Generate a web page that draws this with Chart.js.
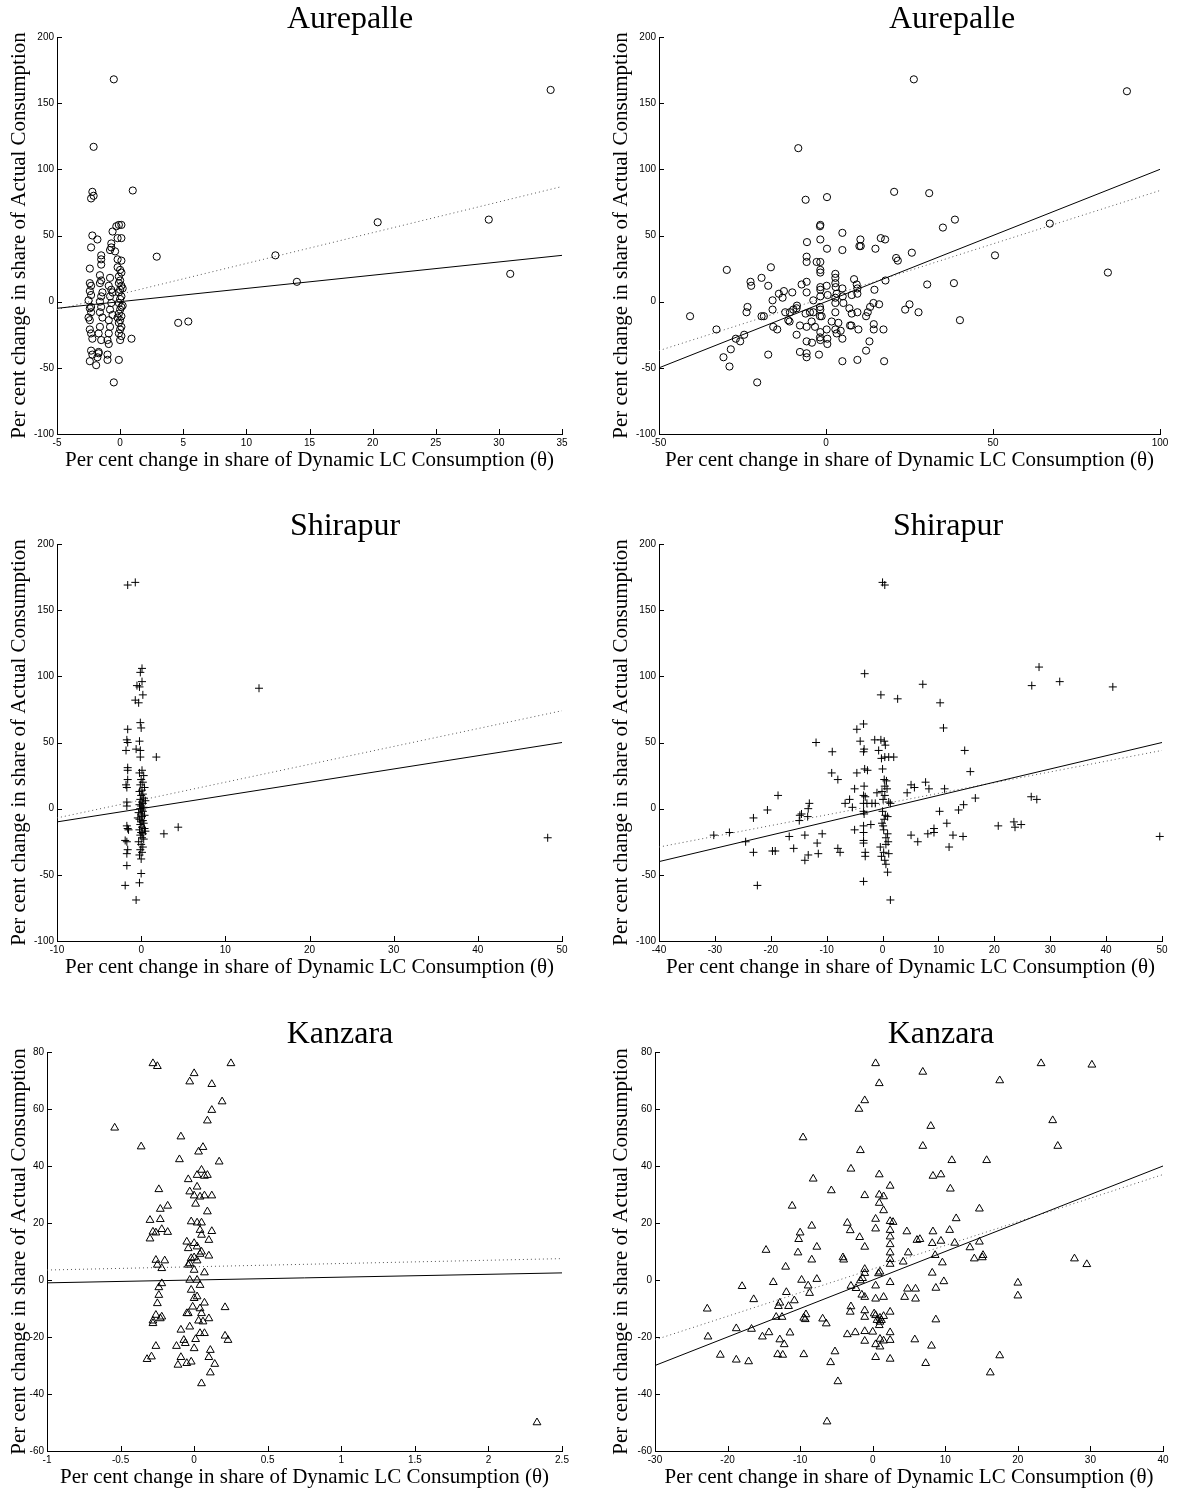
<!DOCTYPE html>
<html>
<head>
<meta charset="utf-8">
<title>Actual vs dynamic LC consumption shares</title>
<script src="https://cdn.jsdelivr.net/npm/chart.js@4.4.1/dist/chart.umd.min.js"></script>
<style>
  body { margin: 0; background: #fff; }
  #figure { position: relative; width: 1179px; height: 1492px; }
  #figure canvas { position: absolute; }
</style>
</head>
<body>
<div id="figure"></div>
<script>
// ---------- DATA ----------
const xLabel = "Per cent change in share of Dynamic LC Consumption (\u03B8)";
const yLabel = "Per cent change in share of Actual Consumption";

// axis ranges: [min, max, step]
const aurDynXAxis = [-5, 35, 5];
const aurLcXAxis = [-50, 100, 50];
const shiDynXAxis = [-10, 50, 10];
const shiLcXAxis = [-40, 50, 10];
const kanDynXAxis = [-1, 2.5, 0.5];
const kanLcXAxis = [-30, 40, 10];
const bigYAxis = [-100, 200, 50];
const kanYAxis = [-60, 80, 20];

// 45-degree lines and fitted (dotted) lines, end points
const aurDynDiag = [[-5, -5], [35, 35]];
const aurDynFit = [[-5, -6], [35, 87]];
const aurLcDiag = [[-50, -50], [100, 100]];
const aurLcFit = [[-50, -37], [100, 84]];
const shiDynDiag = [[-10, -10], [50, 50]];
const shiDynFit = [[-10, -7], [50, 74]];
const shiLcDiag = [[-40, -40], [50, 50]];
const shiLcFit = [[-40, -29], [50, 44]];
const kanDynDiag = [[-1, -1], [2.5, 2.5]];
const kanDynFit = [[-1, 3.5], [2.5, 7.5]];
const kanLcDiag = [[-30, -30], [40, 40]];
const kanLcFit = [[-30, -21], [40, 37]];

// Aurepalle, dynamic LC
const aurDynPts = [
  [-2.1,117],[-2.2,83],[-2.1,80],[-2.3,78],[-2.2,50],[-2.3,41],[-2.4,25],[-2.4,14],[-2.3,12],[-2.4,8],
  [-2.3,5],[-2.3,-4],[-2.4,-5],[-2.3,-8],[-2.4,-14],[-2.4,-21],[-2.3,-24],[-2.2,-28],[-2.3,-37],[-2.2,-40],
  [-2.4,-45],[-2.5,1],[-2.5,-12],
  [-1.8,47],[-1.5,35],[-1.5,32],[-1.5,28],[-1.5,16],[-1.6,14],[-1.5,4],[-1.6,0],[-1.5,-4],[-1.6,-8],
  [-1.6,-19],[-1.7,-24],[-1.5,-29],[-1.7,-38],[-1.7,-39],[-1.8,-42],[-1.9,-48],[-1.4,7],[-1.4,-12],[-1.6,20],
  [-0.5,168],[-0.6,53],[-0.7,44],[-0.7,41],[-0.8,39],[-0.8,18],[-0.9,12],[-0.7,9],[-0.8,4],[-0.7,-1],
  [-0.8,-6],[-0.9,-14],[-0.8,-19],[-0.9,-24],[-1.0,-29],[-0.9,-32],[-1.0,-40],[-1.0,-44],[-0.5,-61],[-0.6,7],[-0.6,-10],
  [-0.3,57],[-0.1,58],[0.1,58],[-0.2,48],[0.1,48],[-0.4,38],[-0.2,32],[0.1,31],[0.0,24],[0.1,22],
  [-0.1,19],[0.0,16],[-0.1,14],[0.1,12],[0.0,9],[-0.1,7],[0.1,4],[0.0,2],[-0.1,-1],[0.1,-4],
  [0.0,-6],[-0.1,-9],[0.1,-11],[0.0,-14],[-0.1,-16],[0.1,-19],[0.0,-21],[-0.1,-24],[0.1,-26],[0.0,-29],
  [-0.1,-44],[-0.2,26],[0.2,10],[0.2,-3],[-0.2,-12],
  [1.0,84],[0.9,-28],[2.9,34],[4.6,-16],[5.4,-15],[12.3,35],[14.0,15],[20.4,60],[29.2,62],[30.9,21],[34.1,160]
];

// Aurepalle, LC
const aurLcPts = [
  [-8.3,116],[-6.1,77],[0.3,79],[20.4,83],[30.9,82],[-1.8,57],[-1.7,58],[-1.7,47],[4.9,52],[-5.7,45],
  [0.3,40],[4.9,39],[10.3,47],[10.0,42],[10.4,42],[16.4,48],[17.7,47],[14.8,40],[21.0,33],[21.5,31],
  [25.7,37],[30.3,13],[-29.7,24],[-16.5,26],[-19.3,18],[-22.6,15],[-22.4,12],[-17.3,12],[-12.6,8],[-14.1,6],
  [-16.0,1],[-13.0,3],[-10.1,7],[-7.3,13],[-5.8,15],[-5.8,7],[-5.8,34],[-5.8,30],[-2.8,30],[-1.7,30],
  [-1.7,24],[-1.7,22],[-1.7,11],[-1.7,9],[-3.8,1],[-1.7,4],[-1.8,-4],[-1.7,-6],[-1.8,-11],[0.2,12],
  [0.5,5],[2.8,21],[2.8,18],[2.8,14],[2.9,11],[2.8,3],[2.8,-1],[2.8,-8],[3.2,6],[4.9,10],
  [5.2,-1],[5.0,4],[8.4,17],[9.2,13],[9.4,10],[7.7,5],[9.4,6],[7.0,-5],[7.7,-9],[9.4,-8],
  [7.2,-18],[9.7,-21],[7.6,-18],[14.5,9],[14.2,-1],[15.9,-2],[12.5,-8],[13.2,-4],[12.0,-11],[17.8,16],
  [14.3,-17],[14.3,-21],[17.2,-21],[25.0,-2],[23.7,-6],[27.7,-8],[13.0,-30],[12.0,-37],[9.4,-44],[4.9,-45],
  [17.4,-45],[-40.7,-11],[-32.8,-21],[-27.0,-28],[-25.7,-30],[-24.5,-25],[-23.8,-8],[-23.5,-4],[-19.3,-11],[-18.6,-11],
  [-16.0,-6],[-15.8,-19],[-14.6,-21],[-11.3,-14],[-10.9,-15],[-12.2,-8],[-10.8,-8],[-9.8,-6],[-8.8,-5],[-8.7,-3],
  [-7.8,-18],[-8.8,-25],[-5.8,-19],[-4.3,-15],[-3.3,-19],[-4.8,-8],[-3.8,-8],[-6.1,-9],[-5.8,-30],[-4.2,-31],
  [-5.8,-39],[-5.8,-42],[-7.8,-38],[-2.1,-40],[-1.8,-27],[-1.7,-29],[-1.7,-23],[-1.3,-11],[0.2,-21],[0.4,-28],
  [1.7,-15],[0.4,-32],[3.7,-16],[4.4,-22],[4.9,-28],[2.8,-21],[3.2,-24],[-30.7,-42],[-28.5,-36],[-28.9,-49],
  [-20.6,-61],[-17.3,-40],[26.3,168],[90.1,159],[35.0,56],[38.6,62],[38.3,14],[40.1,-14],[50.6,35],[67.0,59],[84.4,22]
];

// Shirapur, dynamic LC
const shiDynPts = [
  [-1.6,169],[-0.7,171],[0.1,106],[-0.1,103],[0.1,96],[-0.5,93],[-0.2,92],[0.2,86],[-0.7,82],[-0.3,80],
  [-0.1,65],[0.0,61],[-1.6,60],[-1.7,52],[-1.6,50],[-1.8,44],[-0.2,51],[-0.1,44],[-0.1,39],[-0.6,45],
  [1.8,39],[-1.6,31],[-1.6,29],[-1.6,22],[-1.8,18],[-1.7,16],[-1.7,5],[-1.7,2],[-1.7,-13],[-1.6,-15],
  [-1.5,-16],[-1.9,-24],[-1.7,-25],[-1.6,-31],[-1.7,-34],[-1.7,-43],[-1.9,-58],[0.0,-49],[-0.2,-56],[-0.6,-69],
  [2.7,-19],[4.4,-14],[14.0,91],[48.3,-22],
  [0.1,29],[-0.2,27],[0.3,25],[0.0,22],[0.2,20],[-0.1,18],[0.4,16],[0.1,14],[-0.2,13],[0.2,11],
  [0.0,10],[0.3,8],[-0.1,7],[0.1,5],[0.2,4],[-0.2,3],[0.0,2],[0.3,1],[-0.1,0],[0.1,-1],
  [0.2,-2],[-0.3,-3],[0.0,-4],[0.4,-5],[0.1,-6],[-0.2,-8],[0.2,-9],[0.0,-10],[0.3,-11],[-0.1,-12],
  [0.1,-14],[0.4,-15],[-0.2,-16],[0.0,-18],[0.2,-19],[-0.1,-20],[0.1,-22],[0.3,-23],[-0.3,-25],[0.0,-27],
  [0.2,-29],[-0.1,-31],[0.1,-33],[-0.2,-35],[0.0,-38],[0.5,-17],[-0.4,-7],[0.5,6]
];

// Shirapur, LC
const shiLcPts = [
  [-3.2,102],[7.2,94],[-0.3,86],[2.7,83],[10.3,80],[10.9,61],[-3.4,64],[-4.6,60],[-11.9,50],[-4.0,51],
  [-3.3,45],[-3.4,43],[-1.4,52],[-0.3,52],[0.3,51],[0.5,48],[-0.7,44],[-0.2,38],[0.4,39],[1.1,39],
  [2.0,39],[-9.0,43],[14.7,44],[15.7,28],[-9.1,27],[-8.0,22],[-4.6,27],[-3.2,30],[-2.7,29],[0.0,30],
  [0.3,22],[0.7,21],[-5.0,15],[-5.9,7],[-6.7,4],[-5.4,1],[-3.3,17],[-3.4,10],[-3.1,9],[-3.4,4],
  [-3.4,-2],[-3.3,-4],[-2.8,4],[-1.9,4],[-1.3,4],[-1.0,12],[-0.1,13],[0.4,17],[0.8,15],[0.4,10],
  [0.1,7],[1.1,5],[1.4,4],[0.0,-2],[0.5,-5],[0.9,-6],[-0.1,-11],[0.2,-16],[0.9,-19],[0.6,-22],
  [1.0,-25],[-0.4,-29],[0.2,-33],[1.1,-34],[4.4,12],[5.1,18],[5.7,16],[7.7,20],[8.3,15],[11.1,15],
  [16.6,8],[14.5,3],[13.6,-1],[10.2,-2],[11.5,-11],[8.1,-19],[9.2,-15],[9.2,-18],[12.6,-20],[14.4,-21],
  [11.9,-29],[5.1,-20],[6.3,-25],[23.7,-14],[-18.7,10],[-23.1,-7],[-20.6,-1],[-30.2,-20],[-27.4,-18],[-24.5,-25],
  [-23.1,-33],[-19.7,-32],[-19.2,-32],[-15.9,-30],[-22.4,-58],[-16.7,-21],[-13.9,-20],[-13.1,4],[-13.3,0],[-14.8,-5],
  [-14.5,-4],[-13.4,-6],[-14.9,-9],[-10.8,-19],[-11.7,-26],[-11.5,-34],[-13.3,-35],[-13.9,-39],[-8.0,-30],[-7.6,-33],
  [-5.0,-16],[-3.4,-13],[-2.1,-12],[-3.4,-18],[-3.4,-24],[-3.4,-26],[-3.1,-33],[-3.1,-36],[-3.4,-55],[1.4,-69],
  [0.6,-42],[0.9,-48],[28.0,107],[26.7,93],[31.7,96],[41.2,92],[49.6,-21],[20.7,-13],[23.5,-10],[24.8,-12],
  [26.6,9],[27.6,7],[0.0,171],[0.4,169],[0.3,-8],[0.1,-13],[0.6,-27],[-0.2,-36],[0.4,-39]
];

// Kanzara, dynamic LC
const kanDynPts = [
  [-0.28,76],[-0.25,75],[0.25,76],[0.0,72.5],[-0.03,69.6],[0.12,68.7],[0.19,62.6],[0.12,59.6],[0.09,55.9],[-0.54,53.4],
  [-0.09,50.3],[-0.36,46.8],[0.06,46.6],[0.03,45],[-0.10,42.3],[0.17,41.5],[0.05,38.6],[0.02,36.8],[0.07,36.5],[0.09,36.8],
  [-0.04,35.3],[0.02,32.7],[-0.24,31.8],[-0.03,31],[0.0,29.6],[0.04,29.2],[0.07,29.6],[0.12,29.6],[0.01,26.7],[-0.23,24.9],
  [-0.18,26],[0.09,24],[-0.30,21],[-0.23,21.3],[-0.02,20.5],[0.02,20.1],[0.05,20.1],[-0.28,16.9],[-0.26,16.6],[-0.22,17.8],
  [-0.18,16.8],[-0.30,14.5],[0.04,17.5],[0.05,15.8],[0.12,17.1],[0.10,14],[-0.05,13.4],[0.0,12.9],[-0.04,11.1],[0.02,11.7],
  [0.05,9.9],[0.04,9.1],[0.0,7.9],[-0.02,7.6],[0.10,8.5],[-0.03,5.8],[-0.04,5.3],[0.02,6.8],[-0.26,7],[-0.20,6.8],
  [-0.22,4.1],[-0.25,5.3],[0.0,3.5],[0.07,2.6],[-0.03,0],[0.02,0],[0.04,-1.8],[-0.22,-1.2],[-0.24,-2.6],[-0.24,-5.3],
  [-0.25,-8.2],[-0.02,-3.5],[0.02,-5.8],[0.0,-6.4],[0.07,-8],[-0.01,-9.4],[0.04,-10],[0.05,-11.7],[0.21,-9.6],[-0.26,-12.3],
  [-0.28,-14.3],[-0.23,-13.5],[-0.22,-12.9],[-0.28,-15.2],[-0.05,-11.7],[-0.04,-11.7],[0.03,-14.3],[-0.03,-16.4],[0.06,-14.6],[0.1,-13.5],
  [0.04,-18.7],[0.07,-18.7],[0.01,-20.8],[-0.07,-21.1],[-0.06,-22.2],[0.21,-19.6],[0.23,-21.1],[-0.09,-17.5],[-0.12,-23.2],[-0.26,-23.2],
  [0.0,-24],[-0.02,-28.7],[-0.05,-29.2],[-0.11,-29.8],[-0.09,-27.1],[-0.32,-27.8],[-0.29,-26.9],[0.11,-24.6],[0.10,-27.1],[0.14,-29.5],
  [0.11,-32.5],[0.05,-36.3],[2.33,-50]
];

// Kanzara, LC
const kanLcPts = [
  [0.4,76],[6.9,73],[0.9,69],[-1.1,63],[-1.9,60],[8.0,54],[-9.6,50],[6.9,47],[-1.7,45.5],[10.9,42],
  [15.7,42],[-3.0,39],[0.9,37],[8.3,36.5],[9.4,37],[-8.2,35.5],[2.4,33],[-5.7,31.4],[10.7,32],[-1.1,29.7],
  [0.9,29.9],[1.5,29.3],[0.9,27],[1.5,24.4],[-11.1,26],[14.7,25],[11.5,21.6],[0.4,21.4],[0.4,18],[2.4,20.6],
  [2.8,20.3],[2.4,17.5],[2.4,15.2],[2.4,12.5],[2.4,9.6],[2.4,7.3],[2.4,5.6],[-3.5,20],[-3.1,17.4],[-1.8,15],
  [-8.4,19],[-10.0,16.6],[-10.2,14.3],[-10.3,9.6],[-7.7,11.6],[-8.4,7.1],[-14.7,10.5],[-1.1,11.6],[4.7,17],[8.3,17],
  [10.6,17.5],[6.1,14],[6.5,14.3],[9.4,13.7],[11.3,13],[8.2,12.9],[4.9,9.6],[4.2,6.4],[8.6,8.7],[9.6,6.1],
  [9.8,-0.5],[8.7,-2.8],[8.2,2.5],[13.4,11.4],[14.0,7.5],[14.7,13.4],[15.2,8.7],[15.1,7.9],[-4.1,7.9],[-4.0,7.1],
  [-12.0,4.6],[-1.1,3.8],[-1.1,2.4],[-1.4,0.6],[1.0,2.9],[0.8,2.3],[0.4,-2],[-1.7,-0.2],[-2.3,-2.9],[-3.0,-2.1],
  [2.4,-0.8],[1.5,-6],[0.4,-6.6],[-1.1,-6],[-1.5,-5.2],[-13.7,-0.8],[-9.8,0],[-7.7,0.3],[-8.9,-2],[-8.7,-4.6],
  [-18.0,-2.2],[-16.4,-6.8],[-11.9,-4.3],[-10.8,-7.2],[-12.8,-8],[-13.0,-9.2],[-11.6,-9.2],[-22.8,-10.1],[-3.0,-9.3],[-3.1,-11.2],
  [-1.1,-10.7],[-1.1,-13],[0.2,-11.8],[0.4,-12.4],[1.0,-13.3],[1.0,-14.7],[0.9,-15.9],[1.5,-12.7],[2.4,-11.2],[0.6,-14.1],
  [1.2,-14.1],[4.4,-6],[4.8,-3.1],[5.9,-3.1],[5.9,-6.6],[8.7,-13.9],[-13.3,-13],[-12.5,-13],[-9.5,-13.3],[-9.2,-12.1],
  [-9.3,-13.8],[-6.9,-13.6],[-6.4,-15.3],[-22.7,-19.9],[-18.8,-17],[-16.7,-17.2],[-15.2,-19.9],[-14.3,-18.4],[-11.4,-18.5],[-12.8,-20.9],
  [-12.2,-22.6],[-13.1,-26.1],[-12.4,-26.3],[-9.5,-26.1],[-21.0,-26.3],[-18.8,-28],[-17.1,-28.6],[-5.2,-25.1],[-5.8,-28.9],[-4.8,-35.6],
  [-6.3,-49.7],[-3.5,-19.1],[-2.4,-18.4],[-1.1,-18],[0.0,-18.2],[-1.1,-21.4],[0.4,-22.6],[1.0,-23.4],[1.0,-20.7],[1.5,-21.3],
  [2.4,-18.4],[2.4,-21.1],[0.4,-27.1],[2.4,-27.7],[5.8,-20.9],[8.1,-23.1],[7.3,-29.2],[16.2,-32.5],[23.2,76],[30.2,75.5],
  [17.5,70],[24.8,56],[25.5,47],[27.8,7.5],[29.5,5.5],[20,-1],[20,-5.5],[17.5,-26.5]
];

// ---------- PANEL LAYOUT (page pixels) ----------
// box = canvas [left, top, width, height], area = plot [left, top, right, bottom]
const panels = [
  { title: "Aurepalle", box: [0, 0, 590, 500], area: [57, 37, 562, 434], titleX: 350, yLabelX: 19,
    pts: aurDynPts, marker: "circle", xAxis: aurDynXAxis, yAxis: bigYAxis, diag: aurDynDiag, fit: aurDynFit },
  { title: "Aurepalle", box: [590, 0, 589, 500], area: [659, 37, 1160, 434], titleX: 952, yLabelX: 621,
    pts: aurLcPts, marker: "circle", xAxis: aurLcXAxis, yAxis: bigYAxis, diag: aurLcDiag, fit: aurLcFit },
  { title: "Shirapur", box: [0, 500, 590, 500], area: [57, 544, 562, 941], titleX: 345, yLabelX: 19,
    pts: shiDynPts, marker: "cross", xAxis: shiDynXAxis, yAxis: bigYAxis, diag: shiDynDiag, fit: shiDynFit },
  { title: "Shirapur", box: [590, 500, 589, 500], area: [659, 544, 1162, 941], titleX: 948, yLabelX: 621,
    pts: shiLcPts, marker: "cross", xAxis: shiLcXAxis, yAxis: bigYAxis, diag: shiLcDiag, fit: shiLcFit },
  { title: "Kanzara", box: [0, 1000, 590, 492], area: [47, 1052, 562, 1451], titleX: 340, yLabelX: 19,
    pts: kanDynPts, marker: "triangle", xAxis: kanDynXAxis, yAxis: kanYAxis, diag: kanDynDiag, fit: kanDynFit },
  { title: "Kanzara", box: [590, 1000, 589, 492], area: [655, 1052, 1163, 1451], titleX: 941, yLabelX: 621,
    pts: kanLcPts, marker: "triangle", xAxis: kanLcXAxis, yAxis: kanYAxis, diag: kanLcDiag, fit: kanLcFit }
];

const markerSize = { circle: 3.6, cross: 4, triangle: 4.5 };

// ---------- INWARD TICKS, TITLE AND AXIS LABELS ----------
const panelDecor = {
  id: "panelDecor",
  afterDraw(chart, args, opts) {
    const ctx = chart.ctx;
    const a = chart.chartArea;
    const xs = chart.scales.x;
    const ys = chart.scales.y;
    ctx.save();
    ctx.strokeStyle = "#000";
    ctx.lineWidth = 1;
    ctx.beginPath();
    xs.ticks.forEach(t => {
      const px = Math.round(xs.getPixelForValue(t.value)) + 0.5;
      ctx.moveTo(px, a.bottom);
      ctx.lineTo(px, a.bottom - 5);
    });
    ys.ticks.forEach(t => {
      const py = Math.round(ys.getPixelForValue(t.value)) + 0.5;
      ctx.moveTo(a.left, py);
      ctx.lineTo(a.left + 5, py);
    });
    ctx.stroke();

    ctx.fillStyle = "#000";
    ctx.textAlign = "center";
    ctx.textBaseline = "alphabetic";
    ctx.font = '32px "Liberation Serif"';
    ctx.fillText(opts.title, opts.titleX, a.top - 9);
    ctx.font = '21px "Liberation Serif"';
    ctx.fillText(xLabel, (a.left + a.right) / 2, a.bottom + 32);
    ctx.translate(opts.yLabelX, (a.top + a.bottom) / 2);
    ctx.rotate(-Math.PI / 2);
    ctx.textBaseline = "middle";
    ctx.fillText(yLabel, 0, 0);
    ctx.restore();
  }
};

function toXY(list) {
  return list.map(([x, y]) => ({ x, y }));
}

function axisOptions(range, fitFn) {
  return {
    type: "linear",
    min: range[0],
    max: range[1],
    ticks: {
      stepSize: range[2],
      autoSkip: false,
      maxRotation: 0,
      padding: 3,
      color: "#000",
      font: { family: '"Liberation Sans", Arial, sans-serif', size: 10 },
      callback: v => String(v)
    },
    grid: { display: false, drawTicks: false },
    border: { display: true, color: "#000", width: 1 },
    afterFit: fitFn
  };
}

// ---------- BUILD CHARTS ----------
const figure = document.getElementById("figure");

panels.forEach(p => {
  const [bl, bt, bw, bh] = p.box;
  const [al, at, ar, ab] = p.area;
  const canvas = document.createElement("canvas");
  canvas.width = bw;
  canvas.height = bh;
  canvas.style.left = bl + "px";
  canvas.style.top = bt + "px";
  figure.appendChild(canvas);

  const yWidth = al - bl;
  const xHeight = bt + bh - ab;

  new Chart(canvas, {
    type: "scatter",
    data: {
      datasets: [
        {
          data: toXY(p.pts),
          pointStyle: p.marker,
          pointRadius: markerSize[p.marker],
          pointBorderWidth: 1,
          borderColor: "#000",
          backgroundColor: "rgba(0,0,0,0)",
          clip: false
        },
        {
          data: toXY(p.diag),
          showLine: true,
          pointRadius: 0,
          borderColor: "#000",
          borderWidth: 1
        },
        {
          data: toXY(p.fit),
          showLine: true,
          pointRadius: 0,
          borderColor: "#555",
          borderWidth: 1,
          borderDash: [1, 3]
        }
      ]
    },
    options: {
      responsive: false,
      animation: false,
      layout: { padding: { left: 0, top: at - bt, right: bl + bw - ar, bottom: 0 } },
      plugins: {
        legend: { display: false },
        tooltip: { enabled: false },
        panelDecor: { title: p.title, titleX: p.titleX - bl, yLabelX: p.yLabelX - bl }
      },
      scales: {
        x: axisOptions(p.xAxis, s => { s.height = xHeight; }),
        y: axisOptions(p.yAxis, s => { s.width = yWidth; })
      }
    },
    plugins: [panelDecor]
  });
});
</script>
</body>
</html>
